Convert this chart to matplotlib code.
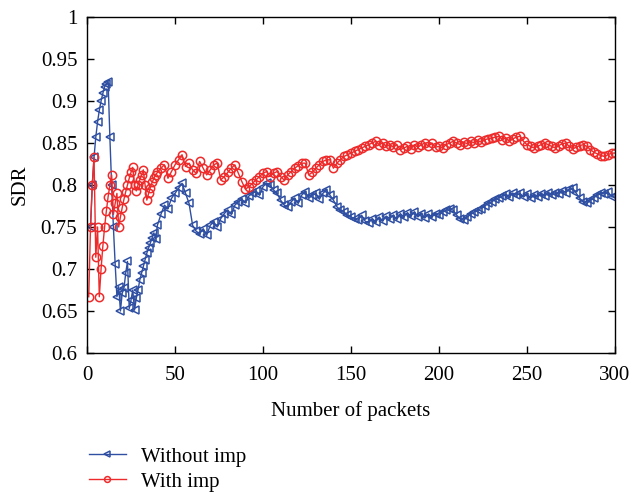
"""
SDR versus number of packets, with and without imp.
"""

import matplotlib
matplotlib.use("Agg")
import matplotlib.pyplot as plt

# Without imp (blue)
blue_x = list(range(2, 41)) + list(range(42, 301, 2))
blue_y = [
    0.750, 0.800, 0.833, 0.857, 0.875, 0.889, 0.900, 0.909, 0.917, 0.920,
    0.923, 0.857, 0.800, 0.750, 0.706, 0.667, 0.679, 0.650, 0.671, 0.677,
    0.695, 0.709, 0.653, 0.663, 0.675, 0.651, 0.665, 0.675, 0.687, 0.695,
    0.703, 0.711, 0.719, 0.725, 0.731, 0.737, 0.743, 0.736, 0.752,
    # every 2 packets from 42
    0.765, 0.776, 0.772, 0.784, 0.790, 0.796, 0.802, 0.790, 0.778, 0.752,
    0.745, 0.742, 0.748, 0.740, 0.752, 0.756, 0.750, 0.760, 0.766, 0.770,
    0.765, 0.776, 0.780, 0.783, 0.779, 0.787, 0.790, 0.793, 0.788, 0.798,
    0.802, 0.800, 0.794, 0.790, 0.782, 0.776, 0.774, 0.780, 0.784, 0.778,
    0.788, 0.792, 0.784, 0.788, 0.790, 0.783, 0.790, 0.794, 0.788, 0.782,
    0.774, 0.770, 0.768, 0.764, 0.762, 0.760, 0.758, 0.764, 0.757, 0.755,
    0.760, 0.756, 0.762, 0.757, 0.763, 0.760, 0.764, 0.759, 0.766, 0.762,
    0.767, 0.763, 0.768, 0.762, 0.766, 0.761, 0.765, 0.762, 0.766, 0.764,
    0.768, 0.770, 0.772, 0.770, 0.764, 0.760, 0.758, 0.762, 0.765, 0.768,
    0.770, 0.772, 0.775, 0.778, 0.780, 0.783, 0.785, 0.787, 0.789, 0.786,
    0.790, 0.788, 0.790, 0.786, 0.789, 0.784, 0.788, 0.786, 0.789, 0.787,
    0.790, 0.788, 0.791, 0.789, 0.793, 0.791, 0.795, 0.796, 0.790, 0.784,
    0.780, 0.778, 0.782, 0.785, 0.788, 0.791, 0.789, 0.792, 0.786, 0.787,
]

# With imp (red)
red_x = list(range(1, 41)) + list(range(42, 301, 2))
red_y = [
    0.667, 0.750, 0.800, 0.833, 0.714, 0.750, 0.667, 0.700, 0.727, 0.750,
    0.769, 0.786, 0.800, 0.812, 0.765, 0.778, 0.790, 0.750, 0.762, 0.773,
    0.783, 0.792, 0.800, 0.808, 0.815, 0.821, 0.800, 0.793, 0.800, 0.806,
    0.812, 0.818, 0.800, 0.782, 0.790, 0.797, 0.803, 0.808, 0.812, 0.815,
    # every 2 packets from 42
    0.820, 0.824, 0.808, 0.816, 0.824, 0.830, 0.836, 0.822, 0.826, 0.818,
    0.814, 0.828, 0.820, 0.812, 0.818, 0.824, 0.826, 0.806, 0.810, 0.815,
    0.820, 0.824, 0.814, 0.804, 0.795, 0.798, 0.802, 0.806, 0.810, 0.814,
    0.816, 0.810, 0.814, 0.816, 0.810, 0.806, 0.812, 0.816, 0.820, 0.823,
    0.826, 0.826, 0.812, 0.815, 0.820, 0.824, 0.828, 0.830, 0.830, 0.820,
    0.826, 0.830, 0.834, 0.836, 0.838, 0.840, 0.842, 0.844, 0.846, 0.848,
    0.850, 0.852, 0.848, 0.850, 0.846, 0.848, 0.845, 0.848, 0.842, 0.844,
    0.846, 0.843, 0.848, 0.845, 0.848, 0.850, 0.846, 0.850, 0.845, 0.846,
    0.844, 0.848, 0.850, 0.852, 0.850, 0.848, 0.851, 0.849, 0.852, 0.850,
    0.853, 0.851, 0.854, 0.855, 0.856, 0.857, 0.858, 0.854, 0.856, 0.852,
    0.855, 0.857, 0.858, 0.852, 0.848, 0.846, 0.844, 0.846, 0.848, 0.850,
    0.848, 0.846, 0.844, 0.847, 0.849, 0.850, 0.846, 0.843, 0.845, 0.847,
    0.848, 0.846, 0.842, 0.839, 0.837, 0.835, 0.834, 0.836, 0.838, 0.838,
]

x_ticks = [0, 50, 100, 150, 200, 250, 300]
y_ticks = [0.6, 0.65, 0.7, 0.75, 0.8, 0.85, 0.9, 0.95, 1.0]
y_labels = ["0.6", "0.65", "0.7", "0.75", "0.8", "0.85", "0.9", "0.95", "1"]

plt.rcParams["font.family"] = ["Liberation Serif", "DejaVu Serif"]
plt.rcParams["font.size"] = 15

fig = plt.figure(figsize=(6.42, 4.92), dpi=100)
ax = fig.add_axes([0.1355, 0.2825, 0.8225, 0.683])

blue = "#2F4FA2"
red = "#EE2A2A"
ax.plot(blue_x, blue_y, color=blue, lw=1.0, marker="<", ms=6,
        mfc="none", mec=blue, mew=1.1, label="Without imp")
ax.plot(red_x, red_y, color=red, lw=1.0, marker="o", ms=6,
        mfc="none", mec=red, mew=1.1, label="With imp")

ax.set_xlim(0, 300)
ax.set_ylim(0.6, 1.0)
ax.set_xticks(x_ticks)
ax.set_yticks(y_ticks)
ax.set_yticklabels(y_labels)
ax.tick_params(direction="in", top=True, right=True, length=5, width=1)
ax.tick_params(axis="x", pad=9)
ax.tick_params(axis="y", pad=7)
for s in ax.spines.values():
    s.set_linewidth(1.0)
ax.set_xlabel("Number of packets", labelpad=12)
ax.set_ylabel("SDR", labelpad=8)

handles, labels = ax.get_legend_handles_labels()
fig.legend(handles, labels, loc="upper left", bbox_to_anchor=(0.125, 0.108),
           borderaxespad=0, frameon=False, handlelength=1.8,
           handletextpad=0.7, labelspacing=0.25, markerscale=0.7)

fig.savefig("out.png", dpi=100)
